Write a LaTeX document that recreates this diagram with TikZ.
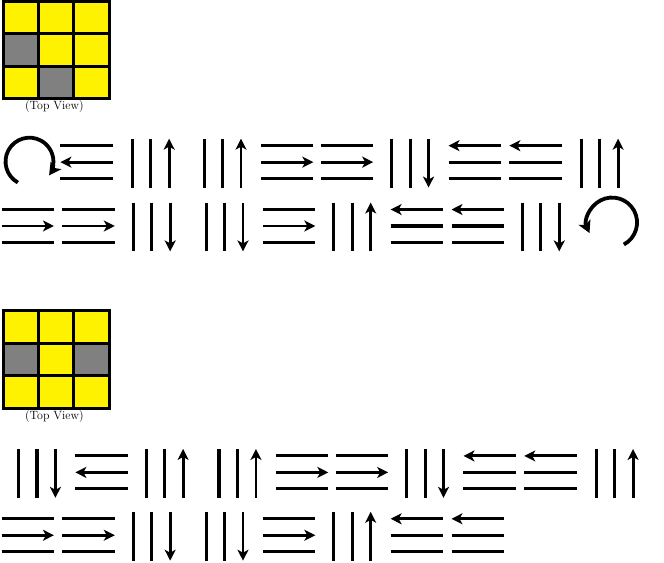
\documentclass[tikz,border=0pt]{standalone}
\usepackage{tikz}
\usetikzlibrary{arrows.meta}

\begin{document}
\begin{tikzpicture}[x=1pt, y=-1pt, >=Stealth,
    bar/.style={line width=3.1pt},
    arr/.style={line width=2.9pt, -{Stealth[length=11pt, width=11pt, inset=3pt]}},
    turn/.style={line width=3.8pt, -{Stealth[length=12pt, width=13pt, inset=3pt]}},
    cell/.style={draw=black, line width=3pt},
    view/.style={font=\fontsize{12}{14}\selectfont, inner sep=0pt}]

    %% Background
    \draw[draw=none] (0,0) rectangle (664,562);

    % Top view, first
    \fill[yellow] (1.5,1.5) rectangle (108,99);
    \fill[gray] (1.5,34) rectangle (37,66.5);
    \fill[gray] (37,66.5) rectangle (72.5,99);
    \foreach \i in {0,1,2} \foreach \j in {0,1,2}
        \draw[cell] (1.5+35.5*\i,1.5+32.5*\j) rectangle ++(35.5,32.5);
    \node[view] (view1) at (53,107) {(Top View)};

    % Top view, second
    \fill[yellow] (1.5,311.5) rectangle (108,409);
    \fill[gray] (1.5,344) rectangle (37,376.5);
    \fill[gray] (72.5,344) rectangle (108,376.5);
    \foreach \i in {0,1,2} \foreach \j in {0,1,2}
        \draw[cell] (1.5+35.5*\i,311.5+32.5*\j) rectangle ++(35.5,32.5);
    \node[view] (view2) at (53,417) {(Top View)};

    % Turns
    \draw[turn] (28,162) ++(119:24) arc[start angle=119, end angle=395, radius=24];
    \draw[turn] (612,223) ++(62:25) arc[start angle=62, end angle=-205, radius=25];

    % Flat bars, arrow right in the middle
    \foreach \x/\y in {260/146, 320/146, 0/210, 61/210, 262/210,
                       275/457, 335/457, 0/520, 61/520, 262/520} {
        \draw[bar] (\x,\y) -- ++(52.5,0);
        \draw[arr] (\x,\y+16.5) -- ++(52.5,0);
        \draw[bar] (\x,\y+33) -- ++(52.5,0);
    }

    % Flat bars, arrow left in the middle
    \foreach \x/\y in {59/146, 74/457} {
        \draw[bar] (\x,\y) -- ++(52.5,0);
        \draw[arr] (\x+52.5,\y+16.5) -- ++(-52.5,0);
        \draw[bar] (\x,\y+33) -- ++(52.5,0);
    }

    % Flat bars, arrow left on top
    \foreach \x/\y in {448/146, 509/146, 390/210, 451/210,
                       463/457, 524/457, 390/520, 451/520} {
        \draw[arr] (\x+52.5,\y) -- ++(-52.5,0);
        \draw[bar] (\x,\y+16.5) -- ++(52.5,0);
        \draw[bar] (\x,\y+33) -- ++(52.5,0);
    }

    % Standing bars, arrow up
    \foreach \x/\y in {131/139, 203/139, 581/139, 333/203,
                       145/450, 218/450, 596/450, 333/513} {
        \draw[bar] (\x,\y) -- ++(0,49);
        \draw[bar] (\x+18.5,\y) -- ++(0,49);
        \draw[arr] (\x+37,\y+49) -- ++(0,-49);
    }

    % Standing bars, arrow down
    \foreach \x/\y in {391/139, 132/203, 205/203, 522/203,
                       17/450, 406/450, 132/513, 205/513} {
        \draw[bar] (\x,\y) -- ++(0,49);
        \draw[bar] (\x+18.5,\y) -- ++(0,49);
        \draw[arr] (\x+37,\y) -- ++(0,49);
    }

\end{tikzpicture}
\end{document}
